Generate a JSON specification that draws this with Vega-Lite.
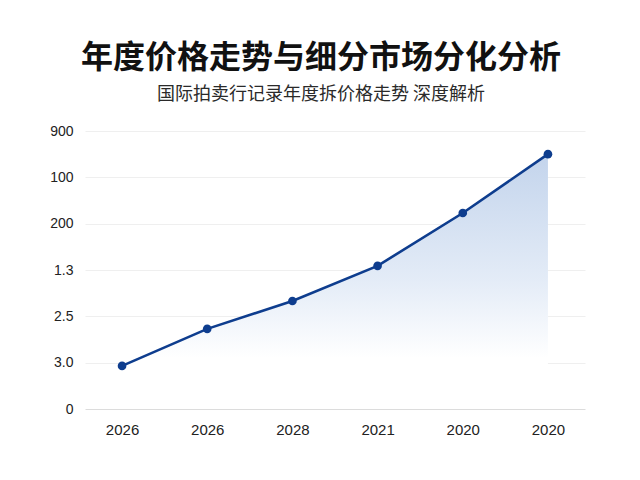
{
  "$schema": "https://vega.github.io/schema/vega-lite/v6.json",
  "width": 500,
  "height": 278,
  "autosize": "none",
  "padding": {"left": 85, "top": 131, "right": 55, "bottom": 71},
  "background": "white",
  "title": {
    "text": "年度价格走势与细分市场分化分析",
    "subtitle": "国际拍卖行记录年度拆价格走势 深度解析",
    "anchor": "middle",
    "dx": -14,
    "offset": 19,
    "font": "Noto Sans CJK SC",
    "fontSize": 32,
    "fontWeight": "bold",
    "color": "#111111",
    "subtitleFont": "Noto Sans CJK SC",
    "subtitleFontSize": 18,
    "subtitleColor": "#2a2a2a",
    "subtitlePadding": 11
  },
  "config": {
    "view": {"stroke": null},
    "axis": {"labelFont": "Liberation Sans", "labelColor": "#222222"}
  },
  "data": {
    "values": [
      {"i": 0, "year": "2026", "v": 0.93},
      {"i": 1, "year": "2026", "v": 1.73},
      {"i": 2, "year": "2028", "v": 2.33},
      {"i": 3, "year": "2021", "v": 3.09},
      {"i": 4, "year": "2020", "v": 4.23},
      {"i": 5, "year": "2020", "v": 5.5}
    ]
  },
  "encoding": {
    "x": {
      "field": "i",
      "type": "quantitative",
      "scale": {"domain": [-0.435, 5.435], "nice": false, "zero": false},
      "axis": {
        "title": null,
        "values": [0, 1, 2, 3, 4, 5],
        "labelExpr": "['2026','2026','2028','2021','2020','2020'][datum.value]",
        "grid": false,
        "domain": false,
        "ticks": false,
        "labelFontSize": 15,
        "labelPadding": 13
      }
    },
    "y": {
      "field": "v",
      "type": "quantitative",
      "scale": {"domain": [0, 6], "nice": false},
      "axis": {
        "title": null,
        "values": [0, 1, 2, 3, 4, 5, 6],
        "labelExpr": "['0','3.0','2.5','1.3','200','100','900'][datum.value]",
        "domain": false,
        "ticks": false,
        "gridColor": {"condition": {"test": "datum.value === 0", "value": "#dcdcdc"}, "value": "#efefef"},
        "labelFontSize": 14,
        "labelPadding": 12
      }
    }
  },
  "layer": [
    {
      "mark": {
        "type": "area",
        "fill": {
          "gradient": "linear",
          "x1": 0.5, "y1": 0, "x2": 0.5, "y2": 1,
          "stops": [
            {"offset": 0, "color": "#c3d4ec"},
            {"offset": 0.5, "color": "#e4ecf7"},
            {"offset": 0.8, "color": "#ffffff"},
            {"offset": 1, "color": "#ffffff"}
          ]
        }
      },
      "encoding": {}
    },
    {
      "mark": {"type": "line", "color": "#0e3d8e", "strokeWidth": 2.6},
      "encoding": {}
    },
    {
      "mark": {"type": "point", "filled": true, "color": "#0e3d8e", "opacity": 1, "size": 75},
      "encoding": {}
    }
  ]
}
